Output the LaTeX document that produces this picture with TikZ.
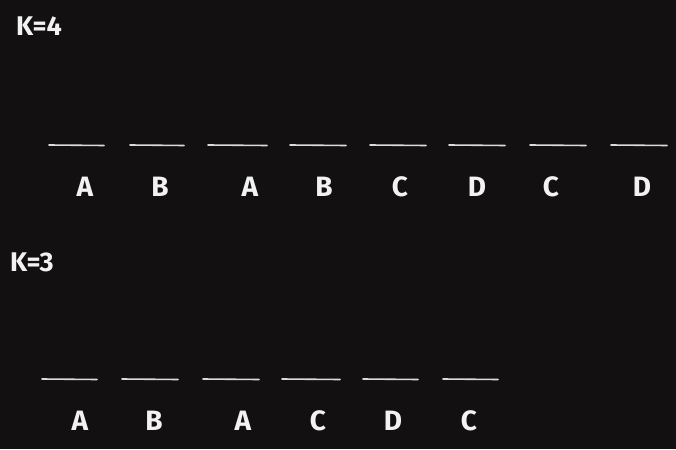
\documentclass[tikz,border=0pt]{standalone}
\usepackage{fontspec}
\setmainfont{Fira Sans}
\definecolor{bg}{HTML}{121010}
\definecolor{ink}{HTML}{F2F2F2}
\begin{document}
\begin{tikzpicture}[x=1pt,y=-1pt,
  slot/.style={draw=ink!90!bg,line width=1.6pt,line cap=round},
  letter/.style={text=ink,font=\fontsize{28}{28}\selectfont\bfseries,inner sep=0pt,anchor=center},
  title/.style={text=ink,font=\fontsize{27}{27}\selectfont\bfseries,inner sep=0pt,anchor=west}]
\fill[bg] (0,0) rectangle (676,449);
\useasboundingbox (0,0) rectangle (676,449);
% K=4
\node[title] (k4) at (16,26) {K=4};
\foreach \i/\a/\b in {1/49/104,2/130/184,3/208/267,4/290/346,5/370/426,6/449/505,7/530/586,8/611/667}{
  \coordinate (t\i a) at (\a,145);
  \coordinate (t\i b) at (\b,145.5);
  \draw[slot] (t\i a) -- (t\i b);
}
\foreach \i/\x/\l in {1/85/A,2/160/B,3/250/A,4/324/B,5/400/C,6/477/D,7/551/C,8/642/D}{
  \node[letter] (tl\i) at (\x,187) {\l};
}
% K=3
\node[title] (k3) at (10,262) {K=3};
\foreach \i/\a/\b in {1/42/97,2/122/178,3/203/259,4/282/340,5/363/418,6/443/498}{
  \coordinate (b\i a) at (\a,379);
  \coordinate (b\i b) at (\b,379.5);
  \draw[slot] (b\i a) -- (b\i b);
}
\foreach \i/\x/\l in {1/80/A,2/154/B,3/243/A,4/318/C,5/393/D,6/469/C}{
  \node[letter] (bl\i) at (\x,421) {\l};
}
\end{tikzpicture}
\end{document}
